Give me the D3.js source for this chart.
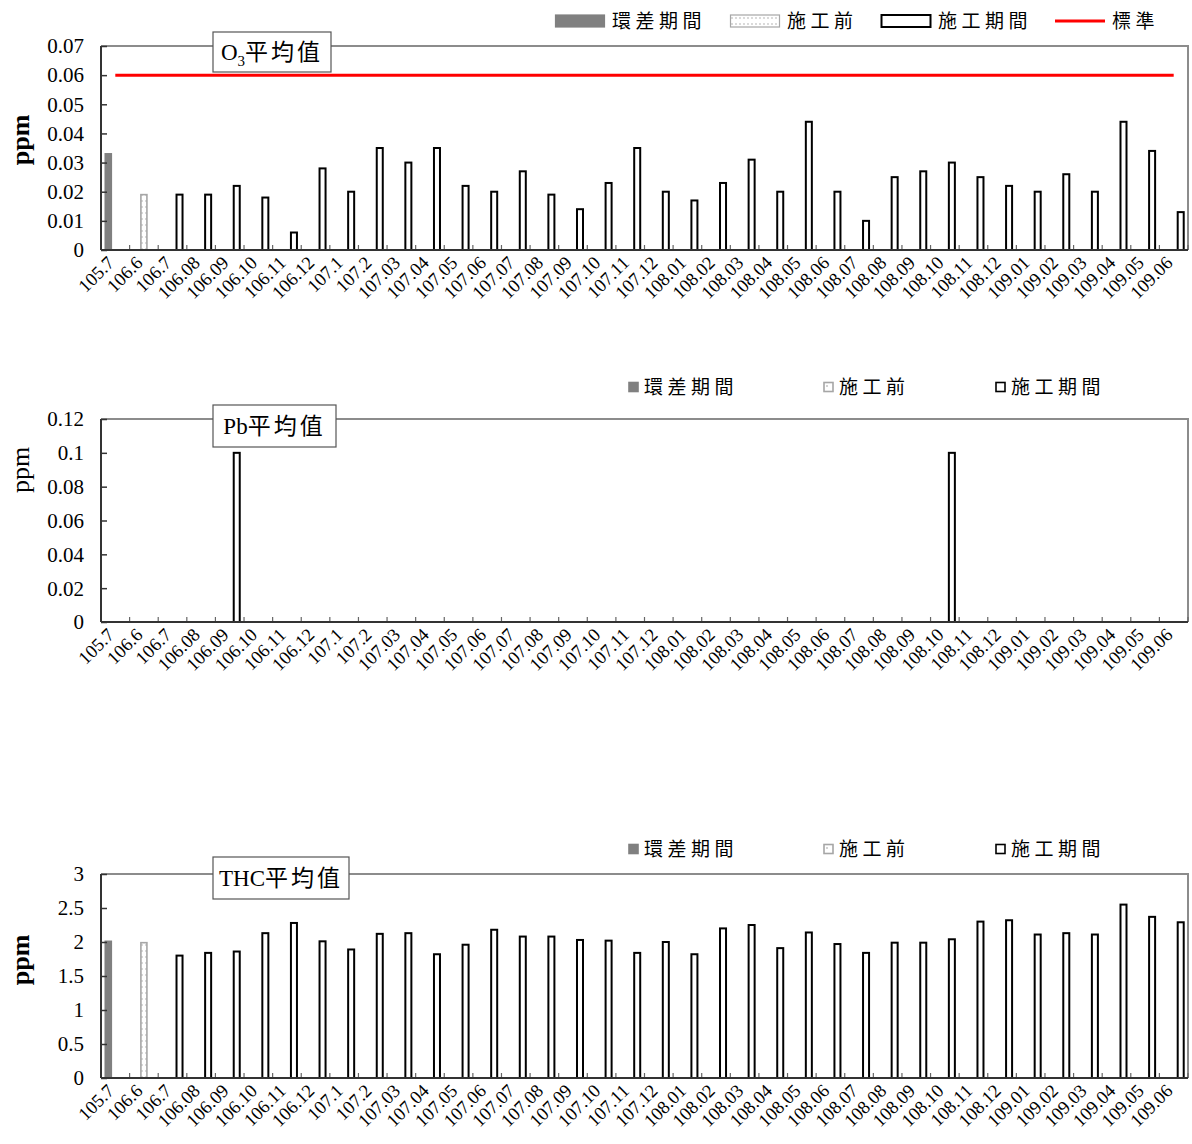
<!DOCTYPE html>
<html>
<head>
<meta charset="utf-8">
<script src="https://cdn.jsdelivr.net/npm/d3@7"></script>
<style>
  body { margin: 0; background: #fff; }
  svg { display: block; font-family: "Liberation Serif", "Noto Sans CJK TC", serif; }
</style>
</head>
<body>
<svg id="chart" width="1192" height="1144"></svg>
<script>
// categories (民國年.月)
const categories = ["105.7","106.6","106.7","106.08","106.09","106.10","106.11","106.12",
  "107.1","107.2","107.03","107.04","107.05","107.06","107.07","107.08","107.09","107.10","107.11","107.12",
  "108.01","108.02","108.03","108.04","108.05","108.06","108.07","108.08","108.09","108.10","108.11","108.12",
  "109.01","109.02","109.03","109.04","109.05","109.06"];
const seriesNames = ["環差期間", "施工前", "施工期間"];
// which series each category belongs to
const periodOf = ["環差期間","施工前","施工期間","施工期間","施工期間","施工期間","施工期間","施工期間",
  "施工期間","施工期間","施工期間","施工期間","施工期間","施工期間","施工期間","施工期間","施工期間","施工期間","施工期間","施工期間",
  "施工期間","施工期間","施工期間","施工期間","施工期間","施工期間","施工期間","施工期間","施工期間","施工期間","施工期間","施工期間",
  "施工期間","施工期間","施工期間","施工期間","施工期間","施工期間"];

const o3Values = [0.033,0.019,0.019,0.019,0.022,0.018,0.006,0.028,
  0.020,0.035,0.030,0.035,0.022,0.020,0.027,0.019,0.014,0.023,0.035,0.020,
  0.017,0.023,0.031,0.020,0.044,0.020,0.010,0.025,0.027,0.030,0.025,0.022,
  0.020,0.026,0.020,0.044,0.034,0.013];
const o3Standard = 0.06;

const pbValues = [null,null,null,null,0.1,null,null,null,
  null,null,null,null,null,null,null,null,null,null,null,null,
  null,null,null,null,null,null,null,null,null,0.1,null,null,
  null,null,null,null,null,null];

const thcValues = [2.01,1.99,1.80,1.84,1.86,2.13,2.28,2.01,
  1.89,2.12,2.13,1.82,1.96,2.18,2.08,2.08,2.03,2.02,1.84,2.00,
  1.82,2.20,2.25,1.91,2.14,1.97,1.84,1.99,1.99,2.04,2.30,2.32,
  2.11,2.13,2.11,2.55,2.37,2.29];

const o3Ticks = [0,0.01,0.02,0.03,0.04,0.05,0.06,0.07];
const pbTicks = [0,0.02,0.04,0.06,0.08,0.1,0.12];
const thcTicks = [0,0.5,1,1.5,2,2.5,3];

const svg = d3.select("#chart");
const defs = svg.append("defs");
const pat = defs.append("pattern").attr("id","dots").attr("patternUnits","userSpaceOnUse")
  .attr("width",4).attr("height",6);
pat.append("rect").attr("width",4).attr("height",6).attr("fill","#fff");
pat.append("circle").attr("cx",2).attr("cy",3).attr("r",0.7).attr("fill","#999");

const cjk = "'Noto Sans CJK TC', 'Liberation Serif', serif";
const left = 101, right = 1188;
const x = d3.scaleBand().domain(categories).range([left, right]).padding(0);
const xs = d3.scaleBand().domain(seriesNames).range([0, x.bandwidth()]).paddingInner(0).paddingOuter(0.54);

const fillOf = {"環差期間":"#808080","施工前":"url(#dots)","施工期間":"#fff"};
const strokeOf = {"環差期間":"#808080","施工前":"#a6a6a6","施工期間":"#000"};
const fmt2 = d => d === 0 ? "0" : d3.format(".2f")(d);

const panels = [
  {values:o3Values, ticks:o3Ticks, fmt:fmt2, top:46, bottom:250, bold:true, ylab:140,
   title:"O3", titleBox:[213,32,118,40], legend:"full", legendY:21, standard:o3Standard},
  {values:pbValues, ticks:pbTicks, fmt:d=>d===0?"0":d3.format(".2~f")(d), top:419, bottom:622, bold:false, ylab:470,
   title:"Pb", titleBox:[213,405,123,42], legend:"small", legendY:387},
  {values:thcValues, ticks:thcTicks, fmt:d=>String(d), top:874, bottom:1078, bold:true, ylab:960,
   title:"THC", titleBox:[213,857,136,42], legend:"small", legendY:849}
];

panels.forEach(p => {
  const y = d3.scaleLinear().domain([0, d3.max(p.ticks)]).range([p.bottom, p.top]);
  const g = svg.append("g");

  // frame top/right
  g.append("path").attr("d", `M${left},${p.top}H${right}V${p.bottom}`)
    .attr("fill","none").attr("stroke","#8c8c8c").attr("stroke-width",2);

  // bars
  const rows = categories.map((c,i) => ({c, v:p.values[i], s:periodOf[i]})).filter(d => d.v != null);
  g.selectAll("rect.bar").data(rows).join("rect")
    .attr("class","bar")
    .attr("x", d => x(d.c) + xs(d.s) + 0.5)
    .attr("width", xs.bandwidth() - 1)
    .attr("y", d => y(d.v))
    .attr("height", d => y(0) - y(d.v))
    .attr("fill", d => fillOf[d.s])
    .attr("stroke", d => strokeOf[d.s])
    .attr("stroke-width", d => d.s === "施工期間" ? 2 : 1.6);

  // standard line
  if (p.standard != null) {
    g.append("line")
      .attr("x1", x(categories[0]) + x.bandwidth()/2)
      .attr("x2", x(categories[categories.length-1]) + x.bandwidth()/2)
      .attr("y1", y(p.standard)).attr("y2", y(p.standard))
      .attr("stroke","#ff0000").attr("stroke-width",3);
  }

  // x-axis ticks at category boundaries (inward)
  const bounds = categories.map(c => x(c)).concat([right]);
  g.selectAll("line.xt").data(bounds.slice(1)).join("line")
    .attr("x1", d=>d).attr("x2", d=>d).attr("y1", p.bottom).attr("y2", p.bottom-5)
    .attr("stroke","#666").attr("stroke-width",1.2);

  // y axis
  const yAxis = g.append("g").attr("transform",`translate(${left},0)`)
    .call(d3.axisRight(y).tickValues(p.ticks).tickSize(6).tickFormat(""));
  yAxis.select(".domain").remove();
  yAxis.selectAll("line").attr("stroke","#333").attr("stroke-width",1.5);
  g.selectAll("text.yl").data(p.ticks).join("text")
    .attr("x", 84).attr("y", d => y(d)).attr("dy","0.35em")
    .attr("text-anchor","end").attr("font-size",21).attr("fill","#000")
    .text(p.fmt);

  // axis lines
  g.append("line").attr("x1",left).attr("x2",left).attr("y1",p.top).attr("y2",p.bottom)
    .attr("stroke","#333").attr("stroke-width",2);
  g.append("line").attr("x1",left).attr("x2",right).attr("y1",p.bottom).attr("y2",p.bottom)
    .attr("stroke","#333").attr("stroke-width",2);

  // x labels
  g.selectAll("text.xl").data(categories).join("text")
    .attr("transform", c => `translate(${x(c)+x.bandwidth()/2},${p.bottom+14}) rotate(-45)`)
    .attr("text-anchor","end").attr("font-size",18.5).attr("fill","#000")
    .text(c => c);

  // y label
  g.append("text").attr("transform",`translate(29,${p.ylab}) rotate(-90)`)
    .attr("text-anchor","middle").attr("font-size",26)
    .attr("font-weight", p.bold ? "bold" : "normal").text("ppm");

  // title box
  const [bx,by,bw,bh] = p.titleBox;
  g.append("rect").attr("x",bx).attr("y",by).attr("width",bw).attr("height",bh)
    .attr("fill","#fff").attr("stroke","#555").attr("stroke-width",1.2);
  const t = g.append("text").attr("x",bx+bw/2).attr("y",by+bh/2+8)
    .attr("text-anchor","middle").attr("font-size",23);
  if (p.title === "O3") {
    t.append("tspan").text("O");
    t.append("tspan").attr("font-size",15).attr("dy",6).text("3");
    t.append("tspan").attr("dy",-6).attr("font-family",cjk).attr("letter-spacing",3).text("平均值");
  } else {
    t.append("tspan").text(p.title);
    t.append("tspan").attr("font-family",cjk).attr("letter-spacing",3).text("平均值");
  }

  // legends
  if (p.legend === "full") {
    const items = [
      {name:"環差期間", x:555, type:"bar"},
      {name:"施工前", x:730, type:"bar"},
      {name:"施工期間", x:881, type:"bar"},
      {name:"標準", x:1055, type:"line"}
    ];
    const lg = g.selectAll("g.lg").data(items).join("g").attr("transform", d => `translate(${d.x},${p.legendY})`);
    lg.filter(d => d.type === "bar").append("rect")
      .attr("x",0.5).attr("y",-6).attr("width",49).attr("height",12)
      .attr("fill", d => fillOf[d.name]).attr("stroke", d => strokeOf[d.name])
      .attr("stroke-width", d => d.name === "施工期間" ? 2 : 1.2);
    lg.filter(d => d.type === "line").append("line")
      .attr("x1",0).attr("x2",50).attr("stroke","#ff0000").attr("stroke-width",3);
    lg.append("text").attr("x",57).attr("dy","0.35em").attr("font-family",cjk)
      .attr("font-size",19).attr("letter-spacing",4.5).text(d => d.name);
  } else {
    const items = [{name:"環差期間", x:628},{name:"施工前", x:823},{name:"施工期間", x:995}];
    const lg = g.selectAll("g.lg").data(items).join("g").attr("transform", d => `translate(${d.x},${p.legendY})`);
    lg.append("rect").attr("x",1).attr("y",-4.5).attr("width",9).attr("height",9)
      .attr("fill", d => d.name === "環差期間" ? "#808080" : "#fff")
      .attr("stroke", d => strokeOf[d.name]).attr("stroke-width",1.6);
    lg.filter(d => d.name === "施工前").append("circle").attr("cx",4).attr("cy",-1).attr("r",0.8).attr("fill","#999");
    lg.append("text").attr("x",16).attr("dy","0.35em").attr("font-family",cjk)
      .attr("font-size",19).attr("letter-spacing",4.5).text(d => d.name);
  }
});
</script>
</body>
</html>
